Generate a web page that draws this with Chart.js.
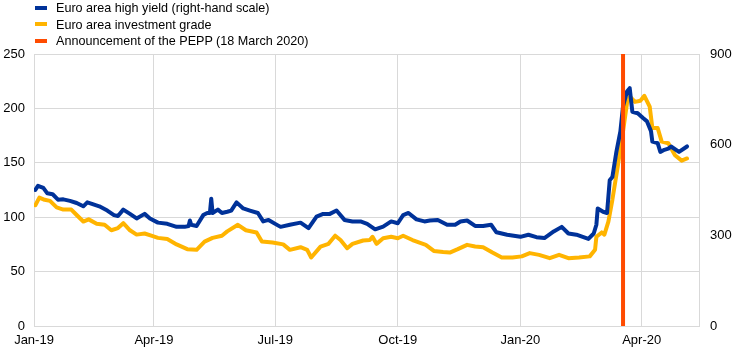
<!DOCTYPE html>
<html>
<head>
<meta charset="utf-8">
<script src="https://cdn.jsdelivr.net/npm/chart.js@4.4.0/dist/chart.umd.min.js"></script>
<style>
  html, body { margin: 0; padding: 0; background: #fff; }
  #wrap { position: relative; width: 744px; height: 353px; }
  #legend { position: absolute; left: 35px; top: 0; font: 12.6px "Liberation Sans", Arial, sans-serif; color: #000; }
  .row { height: 16.5px; line-height: 16.5px; white-space: nowrap; }
  .sw { display: inline-block; width: 12px; height: 4px; vertical-align: middle; margin-right: 9px; position: relative; top: -1px; }
</style>
</head>
<body>
<div id="wrap">
  <canvas id="grafico" width="744" height="353"></canvas>
  <div id="legend"></div>
</div>
<script>
// days counted from 1 Jan 2019
const tickDays = [0, 90, 181, 273, 365, 456];
const tickLabels = ['Jan-19', 'Apr-19', 'Jul-19', 'Oct-19', 'Jan-20', 'Apr-20'];

const seriesNames = [
  'Euro area high yield (right-hand scale)',
  'Euro area investment grade',
  'Announcement of the PEPP (18 March 2020)'
];

// Euro area high yield (right-hand scale)
const hyDays = [1, 3, 7, 10, 14, 18, 22, 27, 32, 37, 40, 44, 49, 55, 60, 63, 67, 72, 77, 83,
  87, 93, 100, 107, 113, 116, 117, 118, 122, 127, 130, 132, 133, 134, 138, 141, 145, 148, 152, 157,
  162, 168, 172, 176, 181, 185, 192, 200, 206, 212, 217, 222, 227, 233, 239, 245, 250, 256, 262, 268,
  273, 277, 281, 287, 293, 297, 303, 310, 316, 320, 325, 331, 337, 343, 347, 355, 365, 371, 377, 383,
  390, 396, 401, 407, 416, 420, 422, 423, 427, 430, 432, 434, 437, 440, 442, 445, 447, 449, 453, 457,
  460, 463, 464, 468, 470, 473, 476, 478, 484, 490];
const hyValues = [450, 464, 457, 439, 436, 418, 419, 414, 407, 396, 409, 403, 396, 382, 367, 364, 385, 371, 356, 371,
  356, 342, 338, 328, 328, 331, 349, 335, 331, 367, 374, 374, 421, 374, 385, 374, 378, 382, 409, 389,
  382, 374, 346, 351, 338, 328, 335, 342, 324, 362, 371, 371, 382, 351, 346, 346, 338, 320, 329, 346,
  340, 367, 374, 353, 346, 349, 351, 335, 335, 346, 349, 331, 331, 335, 310, 302, 295, 302, 294, 291,
  313, 328, 306, 302, 288, 306, 335, 389, 378, 374, 482, 493, 576, 644, 727, 776, 787, 709, 704, 688,
  677, 644, 610, 605, 576, 583, 587, 594, 576, 594];

// Euro area investment grade (left-hand scale)
const igDays = [1, 4, 8, 12, 17, 22, 28, 32, 37, 41, 47, 53, 58, 63, 67, 72, 77, 83, 88, 93,
  100, 107, 115, 122, 128, 134, 141, 145, 153, 159, 167, 171, 179, 187, 192, 200, 205, 208, 215, 221,
  226, 230, 235, 239, 247, 252, 254, 257, 262, 268, 273, 277, 284, 294, 300, 307, 312, 318, 325, 331,
  337, 344, 351, 359, 366, 372, 379, 387, 394, 401, 409, 417, 421, 422, 426, 428, 431, 434, 438, 442,
  445, 447, 451, 455, 458, 462, 464, 468, 471, 476, 481, 486, 490];
const igValues = [111, 118, 116, 115, 109, 107, 107, 102, 96, 98, 94, 93, 88, 90, 94.5, 88, 84, 85, 83, 81,
  80, 75, 70.6, 70, 77.6, 81, 83, 87, 93, 88, 86, 77.6, 76.7, 75, 70, 72.4, 70, 63, 73, 75.5,
  83, 79, 71.5, 75.5, 78.6, 79, 82, 75.5, 80.7, 82, 80.7, 83, 79, 74.6, 69, 68, 67.5, 70.6, 74.6, 73,
  72.4, 67.5, 63, 63, 64, 67, 65.4, 62.3, 65.4, 62.3, 63, 64, 70, 82, 86, 84, 96, 116, 146.5, 179,
  205, 211, 206, 207, 211.5, 201.7, 182, 182, 169.5, 168, 157, 152, 154];

const peppDay = 442;

const colors = ['#003299', '#FFB400', '#FF4B00'];

function toPoints(days, values) {
  return days.map((d, i) => ({ x: d, y: values[i] }));
}

const gridColor = '#d9d9d9';
const fontTicks = { family: '"Liberation Sans", Arial, sans-serif', size: 13 };

const ctx = document.getElementById('grafico').getContext('2d');
new Chart(ctx, {
  type: 'line',
  data: {
    datasets: [
      {
        label: seriesNames[2],
        data: [{ x: peppDay, y: 0 }, { x: peppDay, y: 250 }],
        borderColor: colors[2],
        borderWidth: 4,
        yAxisID: 'y',
        order: 0
      },
      {
        label: seriesNames[0],
        data: toPoints(hyDays, hyValues),
        borderColor: colors[0],
        borderWidth: 4,
        yAxisID: 'y1',
        order: 1
      },
      {
        label: seriesNames[1],
        data: toPoints(igDays, igValues),
        borderColor: colors[1],
        borderWidth: 4,
        yAxisID: 'y',
        order: 2
      }
    ]
  },
  options: {
    responsive: false,
    animation: false,
    events: [],
    elements: {
      point: { radius: 0 },
      line: { tension: 0, borderJoinStyle: 'round', borderCapStyle: 'round' }
    },
    layout: { padding: { top: 54, left: 0, right: 0, bottom: 0 } },
    scales: {
      x: {
        type: 'linear',
        min: 0,
        max: 499,
        afterBuildTicks: (scale) => {
          scale.ticks = tickDays.map(v => ({ value: v }));
        },
        afterFit: (scale) => { scale.height = 27; },
        grid: { color: gridColor, drawTicks: false },
        border: { color: gridColor },
        ticks: {
          autoSkip: false,
          maxRotation: 0,
          padding: 7,
          color: '#000',
          font: fontTicks,
          callback: (value) => {
            const i = tickDays.indexOf(value);
            return i >= 0 ? tickLabels[i] : '';
          }
        }
      },
      y: {
        position: 'left',
        min: 0,
        max: 250,
        afterFit: (scale) => { scale.width = 34; },
        grid: { color: gridColor, drawTicks: false },
        border: { color: gridColor },
        ticks: { stepSize: 50, padding: 9, color: '#000', font: fontTicks }
      },
      y1: {
        position: 'right',
        min: 0,
        max: 900,
        afterFit: (scale) => { scale.width = 45; },
        grid: { display: false, drawTicks: false },
        border: { color: gridColor },
        ticks: { stepSize: 300, padding: 11, color: '#000', font: fontTicks }
      }
    },
    plugins: {
      legend: { display: false },
      tooltip: { enabled: false }
    }
  }
});

// legenda em HTML, na ordem do original
const legendOrder = [0, 1, 2];
const legendEl = document.getElementById('legend');
legendOrder.forEach((k) => {
  const row = document.createElement('div');
  row.className = 'row';
  const sw = document.createElement('span');
  sw.className = 'sw';
  sw.style.background = colors[k];
  row.appendChild(sw);
  row.appendChild(document.createTextNode(seriesNames[k]));
  legendEl.appendChild(row);
});
</script>
</body>
</html>
